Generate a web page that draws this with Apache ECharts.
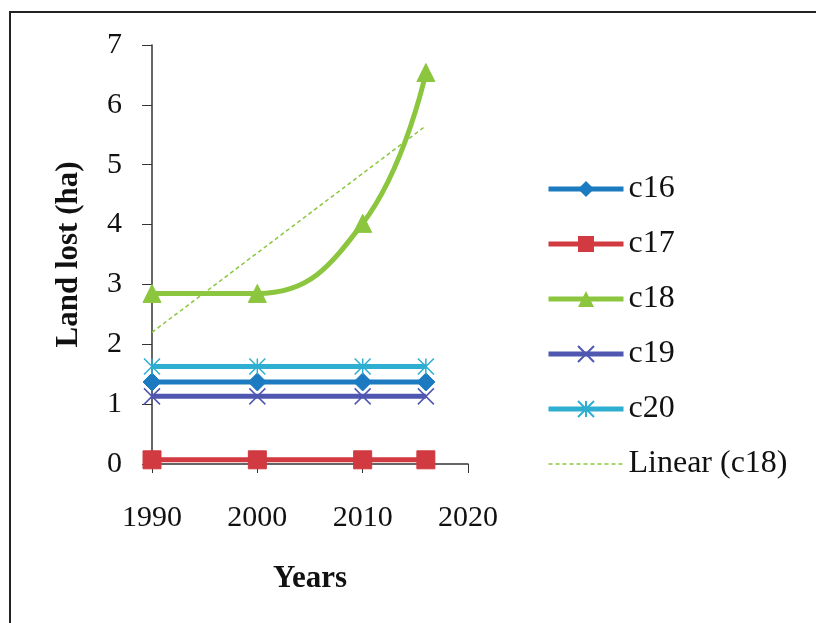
<!DOCTYPE html>
<html><head><meta charset="utf-8">
<script src="https://cdn.jsdelivr.net/npm/echarts@6/dist/echarts.min.js"></script>
<style>html,body{margin:0;padding:0;background:#fff}#c{width:816px;height:623px}</style>
</head><body><div id="c"></div>
<script>
const years = [1990, 2000, 2010, 2016];
const c16 = [1.37, 1.37, 1.37, 1.37];
const c17 = [0.07, 0.07, 0.07, 0.07];
const c18 = [2.85, 2.85, 4.02, 6.54];
const c19 = [1.13, 1.13, 1.13, 1.13];
const c20 = [1.63, 1.63, 1.63, 1.63];
const trendYears = [1990, 2016];
const trendC18 = [2.2, 5.65];
const yTicks = [0, 1, 2, 3, 4, 5, 6, 7];
const xTicks = [1990, 2000, 2010, 2020];

const font = 'Liberation Serif';
const pair = (xs, ys) => xs.map((x, i) => [x, ys[i]]);
const mk = (name, data, color, symbol, size, extra) => Object.assign({
  name, type: 'line', data: pair(years, data), symbol, symbolSize: size,
  lineStyle: { color, width: 5 }, itemStyle: { color, borderColor: color },
  emphasis: { disabled: true }, animation: false, z: 3
}, extra || {});

const chart = echarts.init(document.getElementById('c'), null, { renderer: 'canvas' });
chart.setOption({
  animation: false,
  backgroundColor: '#fff',
  graphic: [{ type: 'rect', shape: { x: 10, y: 12, width: 820, height: 630 }, style: { fill: 'none', stroke: '#222', lineWidth: 2 }, silent: true }],
  grid: { left: 152, right: 348, top: 45, bottom: 159, containLabel: false },
  xAxis: {
    type: 'value', min: xTicks[0], max: xTicks[xTicks.length - 1], interval: 10,
    name: 'Years', nameLocation: 'middle', nameGap: 99,
    nameTextStyle: { fontFamily: font, fontWeight: 'bold', fontSize: 31, color: '#111' },
    axisLine: { show: true, onZero: false, lineStyle: { color: '#333', width: 1.5 } },
    axisTick: { show: true, length: 9, lineStyle: { color: '#333' } },
    axisLabel: { fontFamily: font, fontSize: 30, color: '#111', margin: 39, formatter: v => String(v) },
    splitLine: { show: false }
  },
  yAxis: {
    type: 'value', min: yTicks[0], max: yTicks[yTicks.length - 1], interval: 1,
    name: 'Land lost (ha)', nameLocation: 'middle', nameGap: 68, nameRotate: 90,
    nameTextStyle: { fontFamily: font, fontWeight: 'bold', fontSize: 31, color: '#111' },
    axisLine: { show: true, lineStyle: { color: '#333', width: 1.5 } },
    axisTick: { show: true, length: 10, lineStyle: { color: '#333' } },
    axisLabel: { fontFamily: font, fontSize: 30, color: '#111', margin: 30 },
    splitLine: { show: false }
  },
  legend: {
    orient: 'vertical', left: 541, top: 168, itemWidth: 75, itemHeight: 20, itemGap: 23,
    textStyle: { fontFamily: font, fontSize: 32, color: '#111' },
    lineStyle: { width: 5 },
    data: ['c16', 'c17', 'c18', 'c19', 'c20',
      { name: 'Linear (c18)', itemStyle: { opacity: 0 }, lineStyle: { width: 1.5 } }]
  },
  series: [
    mk('c16', c16, '#1c7bc0', 'diamond', 18),
    mk('c17', c17, '#d03a40', 'rect', 18),
    mk('c18', c18, '#8cc63f', 'triangle', 18, { smooth: 0.45 }),
    mk('c19', c19, '#4f57b0', 'path://M0,0L10,10M10,0L0,10', 16, { itemStyle: { color: 'none', borderColor: '#4f57b0', borderWidth: 1.5 } }),
    mk('c20', c20, '#2eaed0', 'path://M0,0L10,10M10,0L0,10M5,0L5,10', 16, { itemStyle: { color: 'none', borderColor: '#2eaed0', borderWidth: 1.5 } }),
    {
      name: 'Linear (c18)', type: 'line', data: pair(trendYears, trendC18), symbol: 'none',
      lineStyle: { color: '#8cc63f', width: 1.5, type: [4, 3] }, itemStyle: { color: '#8cc63f' },
      emphasis: { disabled: true }, z: 2
    }
  ]
});
</script></body></html>
